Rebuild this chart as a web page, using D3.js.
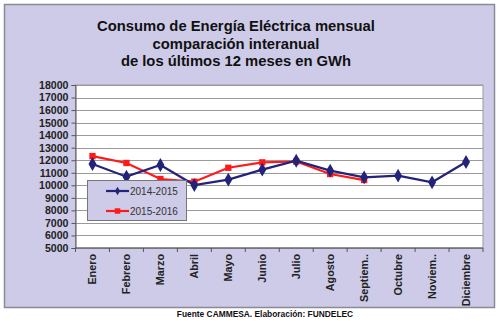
<!DOCTYPE html>
<html lang="es">
<head>
    <meta charset="utf-8">
    <title>Consumo de Energía Eléctrica</title>
    <script type="text/javascript" src="https://d3js.org/d3.v7.min.js"></script>
    <style>
        body { margin: 0; background: #fff; }
        text { font-family: "Liberation Sans", Arial, sans-serif; }
    </style>
</head>
<body>
<script type="text/javascript">
        var w = 500;
        var h = 321;

        var months = ["Enero", "Febrero", "Marzo", "Abril", "Mayo", "Junio", "Julio",
                      "Agosto", "Septiem..", "Octubre", "Noviem..", "Diciembre"];

        var serie1415 = [11700, 10690, 11620, 10020, 10450, 11250, 11960, 11170, 10640, 10770, 10240, 11860];
        var serie1516 = [12330, 11780, 10500, 10290, 11400, 11830, 11900, 10900, 10420];

        var yTicks = [5000, 6000, 7000, 8000, 9000, 10000, 11000, 12000, 13000, 14000, 15000, 16000, 17000, 18000];

        var titleLines = ["Consumo de Energía Eléctrica mensual",
                          "comparación interanual",
                          "de los últimos 12 meses en GWh"];

        var svg = d3.select("body")
            .append("svg")
            .attr("width", w)
            .attr("height", h);

        // panel de fondo
        svg.append("rect")
            .attr("x", 4.5).attr("y", 4.5)
            .attr("width", 490).attr("height", 303)
            .attr("fill", "#cdcbe7")
            .attr("stroke", "#8a8a94")
            .attr("stroke-width", 1.5);

        svg.selectAll("text.title")
            .data(titleLines)
            .enter()
            .append("text")
            .attr("class", "title")
            .attr("x", 236)
            .attr("y", function(d, i) { return 31 + i * 17.5; })
            .attr("text-anchor", "middle")
            .attr("font-size", "14.8px")
            .attr("font-weight", "bold")
            .attr("fill", "#111")
            .text(function(d) { return d; });

        var pLeft = 75.5, pRight = 483, pTop = 85, pBottom = 248;

        var x = d3.scaleBand().domain(months).range([pLeft, pRight]);
        var y = d3.scaleLinear().domain([5000, 18000]).range([pBottom, pTop]);

        svg.append("rect")
            .attr("x", pLeft).attr("y", pTop)
            .attr("width", pRight - pLeft).attr("height", pBottom - pTop)
            .attr("fill", "#fff")
            .attr("stroke", "#999");

        svg.selectAll("line.grid")
            .data(yTicks)
            .enter()
            .append("line")
            .attr("class", "grid")
            .attr("x1", pLeft).attr("x2", pRight)
            .attr("y1", function(d) { return Math.round(y(d)) + 0.5; })
            .attr("y2", function(d) { return Math.round(y(d)) + 0.5; })
            .attr("stroke", "#9a9a9a")
            .attr("stroke-width", 1);

        var yAxis = svg.append("g")
            .attr("transform", "translate(" + pLeft + ",0)")
            .call(d3.axisLeft(y).tickValues(yTicks).tickSize(4).tickPadding(3).tickFormat(d3.format("d")));
        yAxis.select(".domain").attr("stroke", "#555");
        yAxis.selectAll(".tick line").attr("stroke", "#555");
        yAxis.selectAll("text")
            .attr("font-size", "10.6px")
            .attr("font-weight", "bold")
            .attr("font-family", "'Liberation Sans', Arial, sans-serif")
            .attr("fill", "#222");

        // eje x: marcas en los bordes de cada categoria
        var xAxis = svg.append("g").attr("transform", "translate(0," + pBottom + ")");
        xAxis.append("line")
            .attr("x1", pLeft).attr("x2", pRight)
            .attr("stroke", "#555");
        xAxis.selectAll("line.tk")
            .data(months.concat(["end"]))
            .enter()
            .append("line")
            .attr("class", "tk")
            .attr("x1", function(d, i) { return pLeft + i * x.step(); })
            .attr("x2", function(d, i) { return pLeft + i * x.step(); })
            .attr("y1", 0).attr("y2", 4)
            .attr("stroke", "#555");
        xAxis.selectAll("text")
            .data(months)
            .enter()
            .append("text")
            .attr("transform", function(d) {
                return "translate(" + (x(d) + x.bandwidth() / 2 + 3.8) + ",6) rotate(-90)";
            })
            .attr("text-anchor", "end")
            .attr("font-size", "10.8px")
            .attr("font-weight", "bold")
            .attr("font-family", "'DejaVu Sans', Verdana, sans-serif")
            .attr("fill", "#222")
            .text(function(d) { return d; });

        var line = d3.line()
            .x(function(d, i) { return x(months[i]) + x.bandwidth() / 2; })
            .y(function(d) { return y(d); });

        var diamond = d3.symbol().type(d3.symbolDiamond);
        var square = d3.symbol().type(d3.symbolSquare);

        svg.append("path")
            .datum(serie1516)
            .attr("d", line)
            .attr("fill", "none")
            .attr("stroke", "#ff1a1a")
            .attr("stroke-width", 2.2);
        svg.selectAll("path.sq")
            .data(serie1516)
            .enter()
            .append("path")
            .attr("class", "sq")
            .attr("d", square.size(40))
            .attr("transform", function(d, i) {
                return "translate(" + (x(months[i]) + x.bandwidth() / 2) + "," + y(d) + ")";
            })
            .attr("fill", "#ff1a1a");

        svg.append("path")
            .datum(serie1415)
            .attr("d", line)
            .attr("fill", "none")
            .attr("stroke", "#23237a")
            .attr("stroke-width", 2.2);
        svg.selectAll("path.dm")
            .data(serie1415)
            .enter()
            .append("path")
            .attr("class", "dm")
            .attr("d", diamond.size(55))
            .attr("transform", function(d, i) {
                return "translate(" + (x(months[i]) + x.bandwidth() / 2) + "," + y(d) + ")";
            })
            .attr("fill", "#23237a");

        // leyenda
        var legend = svg.append("g");
        legend.append("rect")
            .attr("x", 87.5).attr("y", 180.5)
            .attr("width", 99).attr("height", 40)
            .attr("fill", "#cdcbe7")
            .attr("stroke", "#777");

        var legendItems = [
            { name: "2014-2015", color: "#23237a", sym: d3.symbol().type(d3.symbolDiamond).size(22) },
            { name: "2015-2016", color: "#ff1a1a", sym: d3.symbol().type(d3.symbolSquare).size(30) }
        ];
        legendItems.forEach(function(it, i) {
            var ly = 191 + i * 20;
            legend.append("line")
                .attr("x1", 106).attr("x2", 129)
                .attr("y1", ly).attr("y2", ly)
                .attr("stroke", it.color).attr("stroke-width", 2.2);
            legend.append("path")
                .attr("d", it.sym())
                .attr("transform", "translate(117.5," + ly + ")")
                .attr("fill", it.color);
            legend.append("text")
                .attr("x", 130).attr("y", ly + 3.5)
                .attr("font-size", "10px")
                .attr("fill", "#333")
                .text(it.name);
        });

        svg.append("text")
            .attr("x", 265).attr("y", 317)
            .attr("text-anchor", "middle")
            .attr("font-size", "8.4px")
            .attr("font-weight", "bold")
            .attr("font-family", "'DejaVu Sans', Verdana, sans-serif")
            .attr("fill", "#111")
            .text("Fuente CAMMESA. Elaboración: FUNDELEC");
</script>
</body>
</html>
